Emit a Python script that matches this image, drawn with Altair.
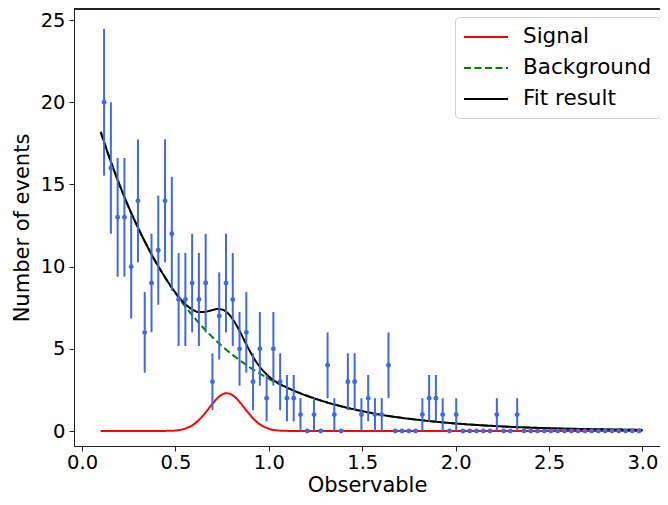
import altair as alt
import pandas as pd

# ---- data ----
bin_centers = [
    0.1181, 0.1544, 0.1906, 0.2269, 0.2631, 0.2994, 0.3356, 0.3719, 0.4081, 0.4444,
    0.4806, 0.5169, 0.5531, 0.5894, 0.6256, 0.6619, 0.6981, 0.7344, 0.7706, 0.8069,
    0.8431, 0.8794, 0.9156, 0.9519, 0.9881, 1.0244, 1.0606, 1.0969, 1.1331, 1.1694,
    1.2056, 1.2419, 1.2781, 1.3144, 1.3506, 1.3869, 1.4231, 1.4594, 1.4956, 1.5319,
    1.5681, 1.6044, 1.6406, 1.6769, 1.7131, 1.7494, 1.7856, 1.8219, 1.8581, 1.8944,
    1.9306, 1.9669, 2.0031, 2.0394, 2.0756, 2.1119, 2.1481, 2.1844, 2.2206, 2.2569,
    2.2931, 2.3294, 2.3656, 2.4019, 2.4381, 2.4744, 2.5106, 2.5469, 2.5831, 2.6194,
    2.6556, 2.6919, 2.7281, 2.7644, 2.8006, 2.8369, 2.8731, 2.9094, 2.9456, 2.9819,
]
counts = [
    20, 16, 13, 13, 10, 14, 6, 9, 11, 14,
    12, 8, 8, 9, 8, 9, 3, 7, 9, 8,
    5, 6, 3, 5, 2, 5, 3, 2, 2, 1,
    0, 1, 0, 4, 1, 0, 3, 3, 1, 2,
    1, 1, 4, 0, 0, 0, 0, 1, 2, 2,
    1, 0, 1, 0, 0, 0, 0, 0, 1, 0,
    0, 1, 0, 0, 0, 0, 0, 0, 0, 0,
    0, 0, 0, 0, 0, 0, 0, 0, 0, 0,
]
errors = [
    4.47, 4.00, 3.61, 3.61, 3.16, 3.74, 2.45, 3.00, 3.32, 3.74,
    3.46, 2.83, 2.83, 3.00, 2.83, 3.00, 1.73, 2.65, 3.00, 2.83,
    2.24, 2.45, 1.73, 2.24, 1.41, 2.24, 1.73, 1.41, 1.41, 1.00,
    0.00, 1.00, 0.00, 2.00, 1.00, 0.00, 1.73, 1.73, 1.00, 1.41,
    1.00, 1.00, 2.00, 0.00, 0.00, 0.00, 0.00, 1.00, 1.41, 1.41,
    1.00, 0.00, 1.00, 0.00, 0.00, 0.00, 0.00, 0.00, 1.00, 0.00,
    0.00, 1.00, 0.00, 0.00, 0.00, 0.00, 0.00, 0.00, 0.00, 0.00,
    0.00, 0.00, 0.00, 0.00, 0.00, 0.00, 0.00, 0.00, 0.00, 0.00,
]

curve_x = [0.10, 0.15, 0.20, 0.25, 0.30, 0.35, 0.40, 0.45, 0.50, 0.55,
           0.60, 0.625, 0.65, 0.675, 0.70, 0.725, 0.75, 0.775, 0.80, 0.825,
           0.85, 0.875, 0.90, 0.925, 0.95, 1.00, 1.05, 1.10, 1.15, 1.20,
           1.30, 1.40, 1.50, 1.60, 1.70, 1.80, 1.90, 2.00, 2.25, 2.50,
           2.75, 3.00]
signal_y = [0.00, 0.00, 0.00, 0.00, 0.00, 0.00, 0.00, 0.01, 0.03, 0.14,
            0.42, 0.66, 0.97, 1.32, 1.68, 2.00, 2.22, 2.30, 2.22, 2.00,
            1.68, 1.32, 0.97, 0.66, 0.42, 0.14, 0.03, 0.01, 0.00, 0.00,
            0.00, 0.00, 0.00, 0.00, 0.00, 0.00, 0.00, 0.00, 0.00, 0.00,
            0.00, 0.00]
background_y = [18.20, 16.52, 15.00, 13.61, 12.36, 11.22, 10.18, 9.24, 8.39, 7.61,
                6.91, 6.58, 6.27, 5.97, 5.69, 5.42, 5.17, 4.92, 4.69, 4.47,
                4.26, 4.05, 3.86, 3.68, 3.51, 3.18, 2.89, 2.62, 2.38, 2.16,
                1.78, 1.47, 1.21, 0.99, 0.82, 0.68, 0.56, 0.46, 0.28, 0.17,
                0.11, 0.07]
fit_y = [18.20, 16.52, 15.00, 13.61, 12.36, 11.22, 10.18, 9.25, 8.42, 7.75,
         7.33, 7.24, 7.24, 7.29, 7.37, 7.42, 7.39, 7.22, 6.91, 6.47,
         5.94, 5.37, 4.83, 4.34, 3.93, 3.32, 2.92, 2.63, 2.38, 2.16,
         1.78, 1.47, 1.21, 0.99, 0.82, 0.68, 0.56, 0.46, 0.28, 0.17,
         0.11, 0.07]

series_names = ["Signal", "Background", "Fit result"]
series_colors = ["#ff0000", "#008000", "#000000"]
series_dashes = [[1, 0], [7, 3.5], [1, 0]]

x_ticks = [0.0, 0.5, 1.0, 1.5, 2.0, 2.5, 3.0]
y_ticks = [0, 5, 10, 15, 20, 25]

# ---- tables ----
pts = pd.DataFrame({
    "x": bin_centers,
    "n": counts,
    "lo": [c - e for c, e in zip(counts, errors)],
    "hi": [c + e for c, e in zip(counts, errors)],
})

rows = []
for name, ys in zip(series_names, [signal_y, background_y, fit_y]):
    for xv, yv in zip(curve_x, ys):
        rows.append({"series": name, "x": xv, "y": yv})
curves = pd.DataFrame(rows)

FONT = "DejaVu Sans"
W, H = 586, 437

xscale = alt.Scale(domain=[-0.043, 3.094], nice=False, zero=False)
yscale = alt.Scale(domain=[-0.91, 25.67], nice=False, zero=False)

xaxis = alt.Axis(values=x_ticks, format=".1f", title="Observable")
yaxis = alt.Axis(values=y_ticks, title="Number of events")

legend = alt.Legend(
    title=None, orient="none", legendX=381, legendY=8,
    symbolType="M-1,0H3", symbolSize=484, symbolStrokeWidth=2,
    labelFontSize=21.5, labelFont=FONT, labelColor="black", labelOffset=36,
    padding=8, fillColor="white", strokeColor="#d0d0d0", cornerRadius=4,
    rowPadding=8,
)
color_scale = alt.Scale(domain=series_names, range=series_colors)
dash_scale = alt.Scale(domain=series_names, range=series_dashes)

base_lines = alt.Chart(curves)
line_layers = []
for name in series_names:
    line_layers.append(
        base_lines.transform_filter(alt.datum.series == name)
        .mark_line(strokeWidth=2, interpolate="monotone")
        .encode(
            x=alt.X("x:Q", scale=xscale, axis=xaxis),
            y=alt.Y("y:Q", scale=yscale, axis=yaxis),
            color=alt.Color("series:N", scale=color_scale, legend=legend),
            strokeDash=alt.StrokeDash("series:N", scale=dash_scale, legend=legend),
            order=alt.Order("x:Q"),
        )
    )

bars = alt.Chart(pts).mark_rule(color="#4169e1", strokeWidth=2).encode(
    x=alt.X("x:Q", scale=xscale, axis=xaxis),
    y=alt.Y("lo:Q", scale=yscale, axis=yaxis),
    y2="hi:Q",
)
dots = alt.Chart(pts).mark_circle(color="#4169e1", size=24, opacity=1).encode(
    x=alt.X("x:Q", scale=xscale, axis=xaxis),
    y=alt.Y("n:Q", scale=yscale, axis=yaxis),
)
top_border = alt.Chart(pts).mark_rule(color="#222222", strokeWidth=1).encode(
    x=alt.value(0), x2=alt.value(W), y=alt.value(0)
)

chart = alt.layer(*line_layers, bars, dots, top_border).properties(
    width=W, height=H,
    autosize=alt.AutoSizeParams(type="none"),
    padding={"left": 66, "top": 1, "right": 0, "bottom": 51},
).configure_view(
    stroke=None
).configure_axis(
    grid=False,
    labelFont=FONT, titleFont=FONT,
    labelFontSize=19.5, titleFontSize=21,
    labelColor="black", titleColor="black",
    titleFontWeight="normal",
    domainColor="#222222", domainWidth=1,
    tickColor="#222222", tickSize=5, tickWidth=1,
).configure_axisX(
    labelPadding=2, titlePadding=2.5,
).configure_axisY(
    labelPadding=4, titlePadding=8,
)

chart.save("out.html", embed_options={"renderer": "svg", "actions": False})
